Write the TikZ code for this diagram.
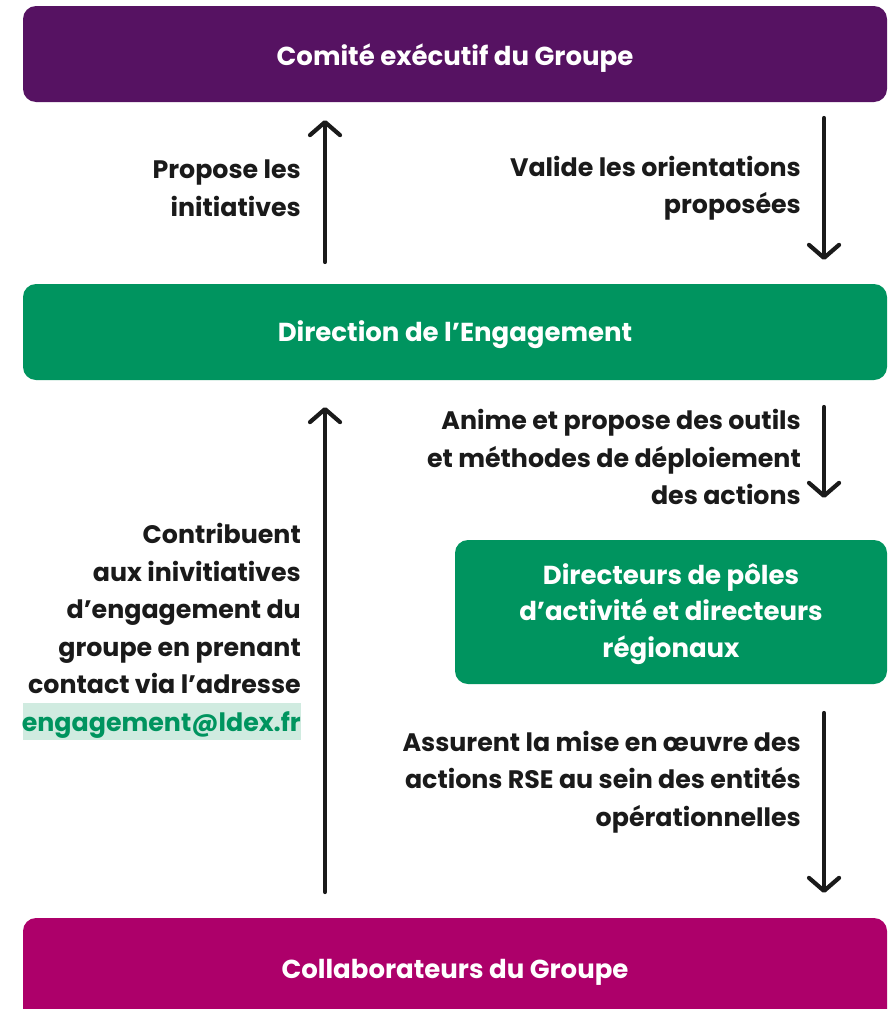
\documentclass[tikz,border=0pt]{standalone}
\usepackage{fontspec}
\setmainfont{Poppins}
\usetikzlibrary{arrows.meta}
\definecolor{cpurple}{HTML}{561262}
\definecolor{cgreen}{HTML}{00945F}
\definecolor{cmagenta}{HTML}{AD006A}
\definecolor{ctext}{HTML}{1A1A1A}
\definecolor{chigh}{HTML}{D0EBE0}
\begin{document}
\begin{tikzpicture}[x=1pt,y=-1pt,
  box/.style={rounded corners=13pt, inner sep=0pt},
  boxtext/.style={text=white, font=\bfseries\fontsize{26}{36.5}\selectfont, align=center},
  lbl/.style={anchor=east, align=right, text=ctext, font=\bfseries\fontsize{25.3}{37.5}\selectfont, inner sep=0pt},
  flow/.style={draw=ctext, line width=4.2pt, line cap=round, -{Straight Barb[length=13pt,width=30pt,line join=round,line cap=round]}}
]
\clip (0,0) rectangle (895,1009);
\fill[white] (0,0) rectangle (895,1009);
% boxes
\fill[cpurple, box] (23,6) rectangle (887,102);
\node[boxtext] (comite) at (455,58) {Comité exécutif du Groupe};
\fill[cgreen, box] (23,284) rectangle (887,380);
\node[boxtext] (dir) at (455,335) {Direction de l'Engagement};
\fill[cgreen, box] (455,540) rectangle (887,684);
\node[boxtext] (pole) at (671,614) {Directeurs de pôles\\d'activité et directeurs\\régionaux};
\fill[cmagenta, box] (23,918) rectangle (887,1040);
\node[boxtext] (collab) at (455,972) {Collaborateurs du Groupe};
% arrow endpoints
\coordinate (a1s) at (325,262); \coordinate (a1e) at (325,120);
\coordinate (a2s) at (824,118); \coordinate (a2e) at (824,260);
\coordinate (a3s) at (325,892); \coordinate (a3e) at (325,407);
\coordinate (a4s) at (824,407); \coordinate (a4e) at (824,498);
\coordinate (a5s) at (824,713); \coordinate (a5e) at (824,893);
\draw[flow] (a1s) -- (a1e);
\draw[flow] (a2s) -- (a2e);
\draw[flow] (a3s) -- (a3e);
\draw[flow] (a4s) -- (a4e);
\draw[flow] (a5s) -- (a5e);
% labels
\node[lbl] (l1) at (301,188) {Propose les\\initiatives};
\node[lbl] (l2) at (801,188) {Valide les orientations\\proposées};
\node[lbl] (l3) at (801,457) {Anime et propose des outils\\et méthodes de déploiement\\des actions};
\fill[chigh] (23,703) rectangle (301,740);
\node[lbl] (l4) at (301,631) {Contribuent\\aux inivitiatives\\d'engagement du\\groupe en prenant\\contact via l'adresse\\\textcolor{cgreen}{engagement@ldex.fr}};
\node[lbl] (l5) at (801,782) {Assurent la mise en œuvre des\\actions RSE au sein des entités\\opérationnelles};
\end{tikzpicture}
\end{document}
